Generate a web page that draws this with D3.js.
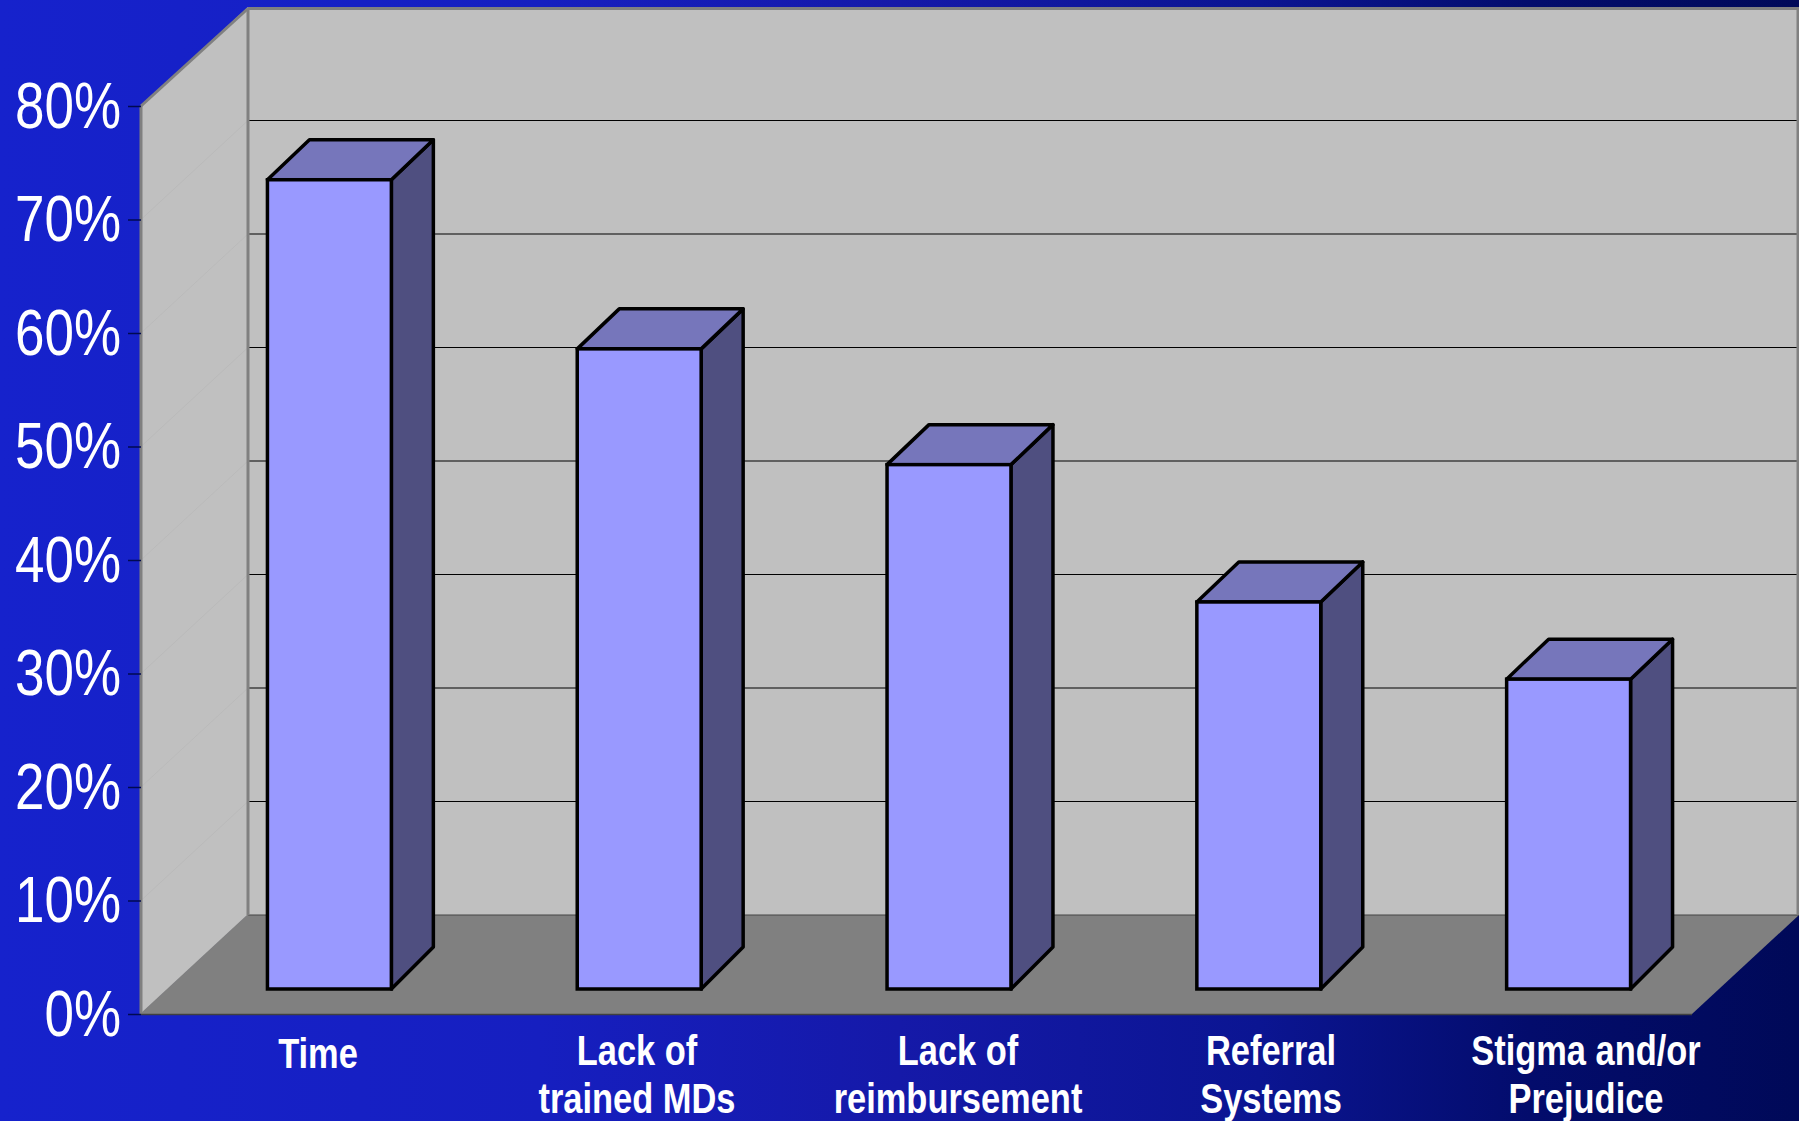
<!DOCTYPE html>
<html><head><meta charset="utf-8">
<script src="https://cdn.jsdelivr.net/npm/d3@7/dist/d3.min.js"></script>
<style>html,body{margin:0;padding:0;background:#000}svg{display:block}text{font-family:"Liberation Sans",Arial,sans-serif;fill:#fff}</style>
</head><body><script>
const categories = [["Time"],["Lack of","trained MDs"],["Lack of","reimbursement"],["Referral","Systems"],["Stigma and/or","Prejudice"]];
const values = [71.3,56.4,46.2,34.1,27.3];
const yTicks = [0,10,20,30,40,50,60,70,80];
const gridTicks = [10,20,30,40,50,60,70];
const bgStops = [[0,"#1622cc"],[0.3,"#161fc0"],[0.5,"#1519a8"],[0.7,"#0b1592"],[0.85,"#030c6c"],[1,"#000958"]];

const W=1799,H=1121;
const svg=d3.select("body").append("svg").attr("width",W).attr("height",H);
const defs=svg.append("defs");
const g=defs.append("linearGradient").attr("id","bg");
bgStops.forEach(s=>g.append("stop").attr("offset",s[0]).attr("stop-color",s[1]));
svg.append("rect").attr("width",W).attr("height",H).attr("fill","url(#bg)");

const y=d3.scaleLinear().domain([0,80]).range([1014,106]);
const x0=141,x1=1692;
const depthX=107,depthY=99;
const xBar=d3.scaleBand().domain(d3.range(values.length)).range([174.5,1723.5]).paddingInner(0.6).paddingOuter(0.3);
const xLabel=d3.scaleOrdinal().domain(d3.range(values.length)).range([318,637,958,1271,1586]);
const poly=p=>p.map(q=>q.join(",")).join(" ");

// floor
svg.append("polygon").attr("points",poly([[x0,y(0)],[x0+depthX,y(0)-depthY],[x1+depthX,y(0)-depthY],[x1,y(0)]])).attr("fill","#808080");
// back wall
svg.append("rect").attr("x",x0+depthX).attr("y",y(80)-depthY).attr("width",x1-x0).attr("height",y(0)-y(80)).attr("fill","#c0c0c0");
// side wall
svg.append("polygon").attr("points",poly([[x0,y(80)],[x0+depthX,y(80)-depthY],[x0+depthX,y(0)-depthY],[x0,y(0)]])).attr("fill","#c0c0c0");
// faint side wall grid
svg.append("g").selectAll("line").data(gridTicks).join("line")
 .attr("x1",x0).attr("x2",x0+depthX).attr("y1",d=>y(d)).attr("y2",d=>y(d)-depthY)
 .attr("stroke","#bababa").attr("stroke-width",1);
// back grid
svg.append("g").selectAll("line").data(gridTicks).join("line")
 .attr("x1",x0+depthX).attr("x2",x1+depthX).attr("y1",d=>y(d)-depthY).attr("y2",d=>y(d)-depthY)
 .attr("stroke","#000").attr("stroke-width",1);
// floor/back seam
svg.append("line").attr("x1",x0+depthX).attr("x2",x1+depthX).attr("y1",y(0)-depthY).attr("y2",y(0)-depthY).attr("stroke","#444").attr("stroke-width",1);
// wall borders
const topY=y(80)-depthY+1.5;
const edge=[[x0,y(0),x0,y(80)],[x0,y(80),x0+depthX,topY],[x0+depthX,topY,x1+depthX,topY],[x0+depthX,topY,x0+depthX,y(0)-depthY],[x1+depthX-1,topY,x1+depthX-1,y(0)-depthY],[x0+depthX,y(0)-depthY,x0,y(0)]];
svg.append("g").selectAll("line").data(edge).join("line")
 .attr("x1",d=>d[0]).attr("y1",d=>d[1]).attr("x2",d=>d[2]).attr("y2",d=>d[3])
 .attr("stroke","#808080").attr("stroke-width",(d,i)=>i==5?1.5:3);
svg.append("line").attr("x1",x0).attr("x2",x1).attr("y1",y(0)+0.5).attr("y2",y(0)+0.5).attr("stroke","#404040").attr("stroke-width",1.5);

// axis ticks and labels
const axis=d3.axisLeft(y).tickValues(yTicks).tickSize(13).tickPadding(0).tickFormat(d=>d+"%");
const ax=svg.append("g").attr("transform",`translate(${x0},0)`).call(axis);
ax.select(".domain").remove();
ax.selectAll(".tick line").attr("stroke","#000a50").attr("stroke-width",1.5);
ax.selectAll(".tick text")
 .attr("text-anchor","end").attr("dy",null).attr("x",null).attr("y",21)
 .attr("transform","translate(-20,0) scale(0.815,1)")
 .style("font-size","65px").style("fill","#fff");

// bars
const bx=42,by=40,byBottom=42,lift=25;
const bars=svg.append("g").selectAll("g").data(values).join("g");
const faceTop=d=>y(d)-lift, faceBot=y(0)-lift;
const sw=3.5;
bars.append("polygon").attr("points",(d,i)=>{const l=xBar(i),r=l+xBar.bandwidth();return poly([[r,faceTop(d)],[r+bx,faceTop(d)-by],[r+bx,faceBot-byBottom],[r,faceBot]]);})
 .attr("fill","#4f4f80").attr("stroke","#000").attr("stroke-width",sw).attr("stroke-linejoin","round");
bars.append("polygon").attr("points",(d,i)=>{const l=xBar(i),r=l+xBar.bandwidth();return poly([[l,faceTop(d)],[l+bx,faceTop(d)-by],[r+bx,faceTop(d)-by],[r,faceTop(d)]]);})
 .attr("fill","#7676bb").attr("stroke","#000").attr("stroke-width",sw).attr("stroke-linejoin","round");
bars.append("rect").attr("x",(d,i)=>xBar(i)).attr("width",xBar.bandwidth()).attr("y",d=>faceTop(d)).attr("height",d=>faceBot-faceTop(d))
 .attr("fill","#9999ff").attr("stroke","#000").attr("stroke-width",sw);

// category labels
const lab=svg.append("g").selectAll("text").data(categories).join("text")
 .attr("transform",(d,i)=>`translate(${xLabel(i)},0) scale(0.82,1)`)
 .attr("text-anchor","middle").style("font-size","42px").style("font-weight","bold");
lab.selectAll("tspan").data(d=>d.map((t,j)=>({t,j,n:d.length}))).join("tspan")
 .attr("x",0).attr("y",d=>d.n==1?1068:1065+48*d.j).text(d=>d.t);
</script></body></html>
